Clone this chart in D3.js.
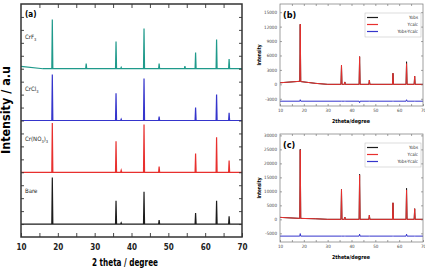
<!DOCTYPE html>
<meta charset="utf-8">
<style>
body { margin: 0; background: #fff; }
text { font-family: "Liberation Sans Narrow", "DejaVu Sans Condensed", sans-serif; }
.big { font-weight: bold; }
</style>
<svg width="425" height="271"></svg>
<script src="https://cdn.jsdelivr.net/npm/d3@7"></script>
<script>

// ---- panel (a) data: peak positions (2theta) and heights (a.u., stacked)
var peaks2theta = [18.5, 27.7, 35.8, 37.2, 43.4, 47.5, 54.5, 57.4, 63.1, 66.5];
var samples = ["Bare", "Cr(NO3)3", "CrCl3", "CrF3"];
var offsets = [1, 5, 9, 13];
var colorsA = ["#1c1c1c", "#e8302e", "#3535cc", "#1f9a8b"];
var bareI     = [3.6, 0, 1.8, 0.1, 2.5, 0.3, 0, 0.85, 1.8, 0.6];
var nitrateI  = [3.8, 0, 2.4, 0.15, 3.7, 0.45, 0, 1.45, 2.7, 0.9];
var chlorideI = [3.55, 0, 2.1, 0.1, 3.25, 0.3, 0, 1.0, 2.0, 0.6];
var fluorideI = [3.8, 0.4, 2.1, 0.1, 3.1, 0.4, 0.2, 1.25, 2.25, 0.75];
var xTicks = [10, 20, 30, 40, 50, 60, 70];

// ---- panels (b) and (c): Rietveld fits
var bgTheta = [10, 18, 25, 30, 70];
var bgB = [330, 620, 200, 0, 0];
var bgC = [700, 350, 200, 0, 0];
var refPeaks = [18.5, 35.8, 37.2, 43.4, 47.5, 57.4, 63.1, 66.5];
var calcB = [11900, 4000, 500, 5750, 900, 2300, 4300, 1700];
var obsB  = [11900, 4000, 500, 5750, 900, 2300, 4700, 1700];
var diffB = [300, 0, 0, -300, 0, 0, 300, 0];
var calcC = [24500, 10700, 800, 15800, 1500, 5900, 10500, 3800];
var obsC  = [24700, 10700, 800, 16100, 1500, 5900, 11100, 3800];
var diffC = [900, 0, 0, 700, 0, 0, 700, 0];
var ticksB = [-3000, 0, 3000, 6000, 9000, 12000, 15000];
var ticksC = [-5000, 0, 5000, 10000, 15000, 20000, 25000, 30000];
var legendNames = ["Yobs", "Ycalc", "Yobs-Ycalc"];
var legendColors = ["#1c1c1c", "#e8302e", "#3535cc"];

var svg = d3.select("svg");

function patternPoints(peaks, heights, base, bgX, bgY, w) {
  var pts = [];
  var bg = bgX ? d3.scaleLinear().domain(bgX).range(bgY) : function() { return 0; };
  var xs = [10];
  if (bgX) xs = bgX.slice();
  peaks.forEach(function(p) { xs.push(p - w, p, p + w); });
  xs.push(70);
  xs = Array.from(new Set(xs)).sort(function(a, b) { return a - b; });
  xs.forEach(function(x) {
    var i = peaks.indexOf(x);
    pts.push([x, base + bg(x) + (i >= 0 ? heights[i] : 0)]);
  });
  return pts;
}

// ================= panel (a)
var xa = d3.scaleLinear().domain([10, 70]).range([21, 242]);
var ya = d3.scaleLinear().domain([0, 18]).range([237, 4]);
var ga = svg.append("g");

var lineA = d3.line().x(function(d) { return xa(d[0]); }).y(function(d) { return ya(d[1]); });
var intensA = [bareI, nitrateI, chlorideI, fluorideI];
intensA.forEach(function(I, k) {
  var pts = patternPoints(peaks2theta, I, offsets[k], k == 3 ? [10, 16, 70] : null, [0.18, 0, 0], 0.14);
  ga.append("path").attr("d", lineA(pts)).attr("fill", "none")
    .attr("stroke", colorsA[k]).attr("stroke-width", 1.2);
});

ga.append("g").attr("transform", "translate(0,237)")
  .call(d3.axisBottom(xa).tickValues(d3.range(10, 71, 5)).tickSize(-4).tickPadding(7)
    .tickFormat(function(d) { return xTicks.indexOf(d) >= 0 ? d : ""; }));
ga.append("g").attr("transform", "translate(0,4)")
  .call(d3.axisTop(xa).tickValues(d3.range(15, 70, 5)).tickSize(-4).tickFormat(""));
ga.append("g").attr("transform", "translate(21,0)")
  .call(d3.axisLeft(ya).tickValues(d3.range(1, 18)).tickSize(-3).tickFormat(""));
ga.append("g").attr("transform", "translate(242,0)")
  .call(d3.axisRight(ya).tickValues(d3.range(1, 18)).tickSize(-3).tickFormat(""));
ga.selectAll(".domain").remove();
ga.selectAll(".tick line").attr("stroke", "#333").attr("stroke-width", 0.9);
ga.selectAll(".tick text").attr("font-size", 8).attr("font-weight", "bold").attr("fill", "#222");
ga.append("rect").attr("x", 21).attr("y", 4).attr("width", 221).attr("height", 233)
  .attr("fill", "none").attr("stroke", "#333").attr("stroke-width", 1.5);

ga.append("text").attr("x", 25).attr("y", 17).attr("font-size", 8).attr("font-weight", "bold").text("(a)");
var labelY = [193, 141, 91, 39];
samples.forEach(function(s, k) {
  var t = ga.append("text").attr("x", 25).attr("y", labelY[k]).attr("font-size", 6).attr("fill", "#222");
  var m = s.match(/^(.*?)(\d)(\)?)(\d?)$/);
  if (!m) { t.text(s); return; }
  t.append("tspan").text(m[1]);
  t.append("tspan").attr("font-size", 4).attr("dy", 2).text(m[2]);
  if (m[3]) {
    t.append("tspan").attr("dy", -2).text(m[3]);
    t.append("tspan").attr("font-size", 4).attr("dy", 2).text(m[4]);
  }
});

ga.append("text").attr("class", "big").attr("x", 125).attr("y", 266)
  .attr("text-anchor", "middle").attr("font-size", 11)
  .attr("textLength", 66).attr("lengthAdjust", "spacingAndGlyphs").text("2 theta / degree");
ga.append("text").attr("class", "big")
  .attr("transform", "translate(10,110) rotate(-90)")
  .attr("text-anchor", "middle").attr("font-size", 12)
  .attr("textLength", 88).attr("lengthAdjust", "spacingAndGlyphs").text("Intensity / a.u");

// ================= panels (b) and (c)
function rietveld(top, bottom, dom, ticks, bg, calc, obs, diff, diffLevel, letter) {
  var x = d3.scaleLinear().domain([10, 70]).range([280, 423]);
  var y = d3.scaleLinear().domain(dom).range([bottom, top]);
  var g = svg.append("g");
  var line = d3.line().x(function(d) { return x(d[0]); }).y(function(d) { return y(d[1]); });

  g.append("path").attr("d", line(patternPoints(refPeaks, obs, 0, bgTheta, bg, 0.2)))
    .attr("fill", "none").attr("stroke", legendColors[0]).attr("stroke-width", 1);
  g.append("path").attr("d", line(patternPoints(refPeaks, calc, 0, bgTheta, bg, 0.2)))
    .attr("fill", "none").attr("stroke", legendColors[1]).attr("stroke-width", 1);
  g.append("path").attr("d", line(patternPoints(refPeaks, diff, diffLevel, null, null, 0.2)))
    .attr("fill", "none").attr("stroke", legendColors[2]).attr("stroke-width", 1);

  g.append("g").attr("transform", "translate(0," + bottom + ")")
    .call(d3.axisBottom(x).tickValues(d3.range(10, 71, 5)).tickSize(-2).tickPadding(3)
      .tickFormat(function(d) { return xTicks.indexOf(d) >= 0 ? d : ""; }));
  g.append("g").attr("transform", "translate(0," + top + ")")
    .call(d3.axisTop(x).tickValues(d3.range(15, 70, 5)).tickSize(-2).tickFormat(""));
  g.append("g").attr("transform", "translate(280,0)")
    .call(d3.axisLeft(y).tickValues(ticks).tickSize(-2).tickPadding(3)
      .tickFormat(function(d) { return String(d); }));
  g.append("g").attr("transform", "translate(423,0)")
    .call(d3.axisRight(y).tickValues(ticks).tickSize(-2).tickFormat(""));
  g.selectAll(".domain").remove();
  g.selectAll(".tick line").attr("stroke", "#666").attr("stroke-width", 0.6);
  g.selectAll(".tick text").attr("font-size", 4.5).attr("fill", "#444");
  g.append("rect").attr("x", 280).attr("y", top).attr("width", 143).attr("height", bottom - top)
    .attr("fill", "none").attr("stroke", "#777").attr("stroke-width", 0.7);

  g.append("text").attr("class", "big").attr("x", 283).attr("y", top + 14)
    .attr("font-size", 9).text(letter);
  g.append("text").attr("class", "big").attr("x", 351).attr("y", bottom + 17)
    .attr("text-anchor", "middle").attr("font-size", 5.5)
    .attr("textLength", 38).attr("lengthAdjust", "spacingAndGlyphs").text("2theta/degree");
  g.append("text").attr("class", "big")
    .attr("transform", "translate(261," + ((top + bottom) / 2) + ") rotate(-90)")
    .attr("text-anchor", "middle").attr("font-size", 5.5)
    .attr("textLength", 21).attr("lengthAdjust", "spacingAndGlyphs").text("Intensity");

  var lg = g.append("g");
  lg.append("rect").attr("x", 365).attr("y", top + 9).attr("width", 56).attr("height", 24)
    .attr("fill", "#fff").attr("stroke", "#bbb").attr("stroke-width", 0.5);
  legendNames.forEach(function(n, i) {
    var ly = top + 13.5 + i * 7;
    lg.append("line").attr("x1", 367).attr("x2", 378).attr("y1", ly).attr("y2", ly)
      .attr("stroke", legendColors[i]).attr("stroke-width", 1.2);
    lg.append("text").attr("x", 418).attr("y", ly + 1.6).attr("text-anchor", "end")
      .attr("font-size", 4.5).attr("fill", "#333").text(n);
  });
}

rietveld(4, 106, [-4500, 16700], ticksB, bgB, calcB, obsB, diffB, -3500, "(b)");
rietveld(134, 242, [-8100, 30500], ticksC, bgC, calcC, obsC, diffC, -6000, "(c)");

</script>
